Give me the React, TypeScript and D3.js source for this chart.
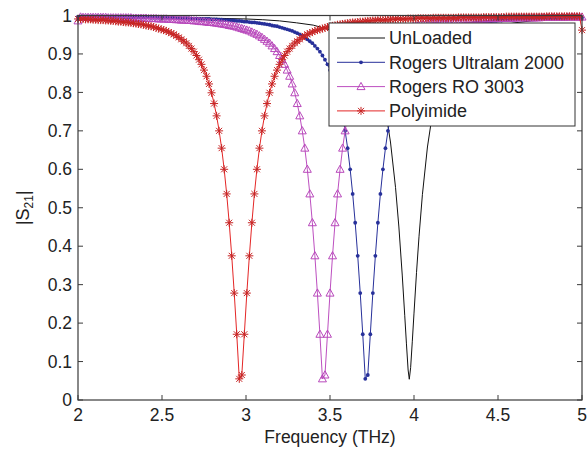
import React from "react";
import * as d3 from "d3";

// sweep grid of the simulated (marked) curves, THz
const freqStart = 2;
const freqStep = 0.015;

// |S21|, one value per sweep point (2 .. 5 THz)
const ultralam = [
  0.997, 0.997, 0.997, 0.997, 0.997, 0.997, 0.997, 0.997, 0.997, 0.997,
  0.996, 0.996, 0.996, 0.996, 0.996, 0.996, 0.996, 0.996, 0.996,
  0.995, 0.995, 0.995, 0.995, 0.995, 0.995, 0.995, 0.995, 0.995, 0.995,
  0.994, 0.994, 0.994, 0.994, 0.994, 0.994, 0.994, 0.994, 0.994, 0.994,
  0.993, 0.993, 0.993, 0.993, 0.993,
  0.993, 0.992, 0.992, 0.992, 0.992, 0.991, 0.991, 0.991, 0.991, 0.990,
  0.990, 0.990, 0.989, 0.989, 0.988, 0.988, 0.988, 0.987, 0.987, 0.986,
  0.986, 0.985, 0.984, 0.984, 0.983, 0.982, 0.982, 0.981, 0.980, 0.979,
  0.978, 0.977, 0.976, 0.974, 0.973, 0.972, 0.970, 0.968, 0.966, 0.964,
  0.962, 0.960, 0.957, 0.954, 0.951, 0.947, 0.943, 0.938, 0.933, 0.928,
  0.921, 0.914, 0.906, 0.896, 0.885, 0.873, 0.858, 0.842, 0.822, 0.799,
  0.771, 0.739, 0.700, 0.655, 0.600, 0.536, 0.461, 0.375, 0.278, 0.171,
  0.055, 0.065,
  0.171, 0.278, 0.375, 0.461, 0.536, 0.600, 0.655, 0.700, 0.739, 0.771,
  0.799, 0.822, 0.842, 0.858, 0.873, 0.885, 0.896, 0.906, 0.914, 0.921,
  0.928, 0.933, 0.938, 0.943, 0.947, 0.951, 0.954, 0.957, 0.960, 0.962,
  0.964, 0.966, 0.968, 0.970, 0.972, 0.973, 0.974, 0.976, 0.977, 0.978,
  0.979, 0.980, 0.981, 0.982, 0.982, 0.983, 0.984, 0.984, 0.985, 0.986,
  0.986, 0.987, 0.987, 0.988, 0.988, 0.988, 0.989, 0.989, 0.990, 0.990,
  0.990, 0.991, 0.991, 0.991, 0.991, 0.992, 0.992, 0.992, 0.992, 0.993,
  0.993, 0.993, 0.993, 0.993, 0.993,
  0.994, 0.994, 0.994, 0.994, 0.994, 0.994, 0.994, 0.994, 0.994, 0.994,
];

const ro3003 = [
  0.986, 0.996,
  0.995, 0.995, 0.995, 0.995, 0.995, 0.995, 0.995, 0.995, 0.995, 0.995,
  0.994, 0.994, 0.994, 0.994, 0.994, 0.994, 0.994, 0.994, 0.994, 0.994,
  0.993, 0.993, 0.993, 0.993, 0.993,
  0.993, 0.992, 0.992, 0.992, 0.992, 0.991, 0.991, 0.991, 0.991, 0.990,
  0.990, 0.990, 0.989, 0.989, 0.988, 0.988, 0.988, 0.987, 0.987, 0.986,
  0.986, 0.985, 0.984, 0.984, 0.983, 0.982, 0.982, 0.981, 0.980, 0.979,
  0.978, 0.977, 0.976, 0.974, 0.973, 0.972, 0.970, 0.968, 0.966, 0.964,
  0.962, 0.960, 0.957, 0.954, 0.951, 0.947, 0.943, 0.938, 0.933, 0.928,
  0.921, 0.914, 0.906, 0.896, 0.885, 0.873, 0.858, 0.842, 0.822, 0.799,
  0.771, 0.739, 0.700, 0.655, 0.600, 0.536, 0.461, 0.375, 0.278, 0.171,
  0.055, 0.065,
  0.171, 0.278, 0.375, 0.461, 0.536, 0.600, 0.655, 0.700, 0.739, 0.771,
  0.799, 0.822, 0.842, 0.858, 0.873, 0.885, 0.896, 0.906, 0.914, 0.921,
  0.928, 0.933, 0.938, 0.943, 0.947, 0.951, 0.954, 0.957, 0.960, 0.962,
  0.964, 0.966, 0.968, 0.970, 0.972, 0.973, 0.974, 0.976, 0.977, 0.978,
  0.979, 0.980, 0.981, 0.982, 0.982, 0.983, 0.984, 0.984, 0.985, 0.986,
  0.986, 0.987, 0.987, 0.988, 0.988, 0.988, 0.989, 0.989, 0.990, 0.990,
  0.990, 0.991, 0.991, 0.991, 0.991, 0.992, 0.992, 0.992, 0.992, 0.993,
  0.993, 0.993, 0.993, 0.993, 0.993,
  0.994, 0.994, 0.994, 0.994, 0.994, 0.994, 0.994, 0.994, 0.994, 0.994,
  0.995, 0.995, 0.995, 0.995, 0.995, 0.995, 0.995, 0.995, 0.995, 0.995,
  0.996, 0.996, 0.996, 0.996, 0.996, 0.996, 0.996,
];

const polyimide = [
  0.991, 0.991, 0.991, 0.990, 0.990, 0.990, 0.989, 0.989, 0.988, 0.988,
  0.988, 0.987, 0.987, 0.986, 0.986, 0.985, 0.984, 0.984, 0.983, 0.982,
  0.982, 0.981, 0.980, 0.979, 0.978, 0.977, 0.976, 0.974, 0.973, 0.972,
  0.970, 0.968, 0.966, 0.964, 0.962, 0.960, 0.957, 0.954, 0.951, 0.947,
  0.943, 0.938, 0.933, 0.928, 0.921, 0.914, 0.906, 0.896, 0.885, 0.873,
  0.858, 0.842, 0.822, 0.799, 0.771, 0.739, 0.700, 0.655, 0.600, 0.536,
  0.461, 0.375, 0.278, 0.171,
  0.055, 0.065,
  0.171, 0.278, 0.375, 0.461, 0.536, 0.600, 0.655, 0.700, 0.739, 0.771,
  0.799, 0.822, 0.842, 0.858, 0.873, 0.885, 0.896, 0.906, 0.914, 0.921,
  0.928, 0.933, 0.938, 0.943, 0.947, 0.951, 0.954, 0.957, 0.960, 0.962,
  0.964, 0.966, 0.968, 0.970, 0.972, 0.973, 0.974, 0.976, 0.977, 0.978,
  0.979, 0.980, 0.981, 0.982, 0.982, 0.983, 0.984, 0.984, 0.985, 0.986,
  0.986, 0.987, 0.987, 0.988, 0.988, 0.988, 0.989, 0.989, 0.990, 0.990,
  0.990, 0.991, 0.991, 0.991, 0.991, 0.992, 0.992, 0.992, 0.992, 0.993,
  0.993, 0.993, 0.993, 0.993, 0.993,
  0.994, 0.994, 0.994, 0.994, 0.994, 0.994, 0.994, 0.994, 0.994, 0.994,
  0.995, 0.995, 0.995, 0.995, 0.995, 0.995, 0.995, 0.995, 0.995, 0.995,
  0.996, 0.996, 0.996, 0.996, 0.996, 0.996, 0.996, 0.996, 0.996,
  0.997, 0.997, 0.997, 0.997, 0.997, 0.997, 0.997, 0.997,
  0.997, 0.997, 0.997, 0.997, 0.997, 0.997, 0.997, 0.997,
  0.998, 0.998, 0.998, 0.998, 0.998, 0.998, 0.998,
  0.998, 0.998, 0.998, 0.998, 0.998, 0.998, 0.998,
  0.962,
];

// unloaded resonator (no markers)
const unloadedFreq = [
  2.0, 2.2, 2.4, 2.6, 2.8, 3.0, 3.1, 3.2, 3.3, 3.4, 3.5, 3.55, 3.6, 3.65,
  3.7, 3.75, 3.8, 3.83, 3.86, 3.89, 3.91, 3.93, 3.945, 3.955, 3.965, 3.972,
  3.98, 3.99, 4.0, 4.015, 4.03, 4.05, 4.08, 4.11, 4.14, 4.18, 4.22, 4.27,
  4.33, 4.4, 4.5, 4.6, 4.7, 4.8, 4.9, 5.0,
];
const unloadedS21 = [
  0.998, 0.997, 0.996, 0.995, 0.993, 0.991, 0.989, 0.986, 0.981, 0.975,
  0.963, 0.955, 0.945, 0.931, 0.908, 0.872, 0.811, 0.754, 0.671, 0.553,
  0.450, 0.325, 0.219, 0.146, 0.078, 0.054, 0.084, 0.153, 0.226, 0.332,
  0.426, 0.534, 0.658, 0.745, 0.805, 0.859, 0.895, 0.923, 0.945, 0.960,
  0.973, 0.981, 0.986, 0.989, 0.991, 0.993,
];

const xTicks = [2, 2.5, 3, 3.5, 4, 4.5, 5];
const yTicks = [0, 0.1, 0.2, 0.3, 0.4, 0.5, 0.6, 0.7, 0.8, 0.9, 1];
const legendLabels = ["UnLoaded", "Rogers Ultralam 2000", "Rogers RO 3003", "Polyimide"];

const FONT = "'Liberation Sans', Arial, Helvetica, sans-serif";

const asteriskPath = "M-4,0H4M0,-4V4M-3,-3L3,3M-3,3L3,-3";
const trianglePath = "M0,-4.2L4,3L-4,3Z";

function Marker({ kind, cx, cy, color }) {
  if (kind === "dot") return <circle cx={cx} cy={cy} r={1.9} fill={color} />;
  if (kind === "tri")
    return <path d={trianglePath} transform={`translate(${cx},${cy})`} fill="none" stroke={color} strokeWidth={1} />;
  if (kind === "star")
    return <path d={asteriskPath} transform={`translate(${cx},${cy})`} fill="none" stroke={color} strokeWidth={1} />;
  return null;
}

export default function App() {
  const width = 587;
  const height = 450;

  const x = d3.scaleLinear().domain([2, 5]).range([78, 582]);
  const y = d3.scaleLinear().domain([0, 1]).range([400, 15.5]);
  const [x0, x1] = x.range();
  const [yb, yt] = y.range();

  const swept = (vals: number[]) => vals.map((v, i) => [freqStart + i * freqStep, v] as [number, number]);
  const line = d3
    .line<[number, number]>()
    .x((d) => x(d[0]))
    .y((d) => y(d[1]));

  const series = [
    { name: legendLabels[0], pts: unloadedFreq.map((f, i) => [f, unloadedS21[i]] as [number, number]), color: "#111111", marker: null, mColor: "" },
    { name: legendLabels[1], pts: swept(ultralam), color: "#27309a", marker: "dot", mColor: "#27309a" },
    { name: legendLabels[2], pts: swept(ro3003), color: "#bd4fc0", marker: "tri", mColor: "#b848bb" },
    { name: legendLabels[3], pts: swept(polyimide), color: "#e42626", marker: "star", mColor: "#c72525" },
  ];

  const tickLen = 5;
  const legend = { x: 329, y: 23, w: 246, h: 103, row0: 38, rowStep: 24.3 };

  return (
    <svg width={width} height={height} style={{ position: "absolute", left: 0, top: 0, background: "#fff" }} fontFamily={FONT}>
      <rect width={width} height={height} fill="#fff" />

      {/* curves */}
      {series.map((s) => (
        <g key={s.name}>
          <path d={line(s.pts) ?? ""} fill="none" stroke={s.color} strokeWidth={1} />
          {s.marker &&
            s.pts.map((p, i) => <Marker key={i} kind={s.marker} cx={x(p[0])} cy={y(p[1])} color={s.mColor} />)}
        </g>
      ))}

      {/* axes box */}
      <rect x={x0} y={yt} width={x1 - x0} height={yb - yt} fill="none" stroke="#3a3a3a" strokeWidth={1.2} />
      {xTicks.map((t) => (
        <g key={`x${t}`}>
          <line x1={x(t)} x2={x(t)} y1={yb} y2={yb - tickLen} stroke="#3a3a3a" />
          <line x1={x(t)} x2={x(t)} y1={yt} y2={yt + tickLen} stroke="#3a3a3a" />
          <text x={x(t)} y={421} textAnchor="middle" fontSize={17.5} fill="#222">
            {String(t)}
          </text>
        </g>
      ))}
      {yTicks.map((t) => (
        <g key={`y${t}`}>
          <line x1={x0} x2={x0 + tickLen} y1={y(t)} y2={y(t)} stroke="#3a3a3a" />
          <line x1={x1} x2={x1 - tickLen} y1={y(t)} y2={y(t)} stroke="#3a3a3a" />
          <text x={72} y={y(t)} dy="0.35em" textAnchor="end" fontSize={17.5} fill="#222">
            {String(t)}
          </text>
        </g>
      ))}

      {/* axis titles */}
      <text x={(x0 + x1) / 2} y={443} textAnchor="middle" fontSize={17.5} fill="#222">
        Frequency (THz)
      </text>
      <text transform={`translate(29,${(yb + yt) / 2}) rotate(-90)`} textAnchor="middle" fontSize={18} fill="#222">
        |S<tspan fontSize={12} dy={4}>21</tspan>
        <tspan dy={-4}>|</tspan>
      </text>

      {/* legend */}
      <rect x={legend.x} y={legend.y} width={legend.w} height={legend.h} fill="#fff" stroke="#333" strokeWidth={1} />
      {series.map((s, i) => {
        const ly = legend.row0 + i * legend.rowStep;
        return (
          <g key={`lg${i}`}>
            <line x1={337} x2={385} y1={ly} y2={ly} stroke={s.color} strokeWidth={1} />
            {s.marker && <Marker kind={s.marker} cx={361} cy={ly} color={s.mColor} />}
            <text x={389} y={ly} dy="0.35em" fontSize={18} fill="#222">
              {s.name}
            </text>
          </g>
        );
      })}
    </svg>
  );
}
